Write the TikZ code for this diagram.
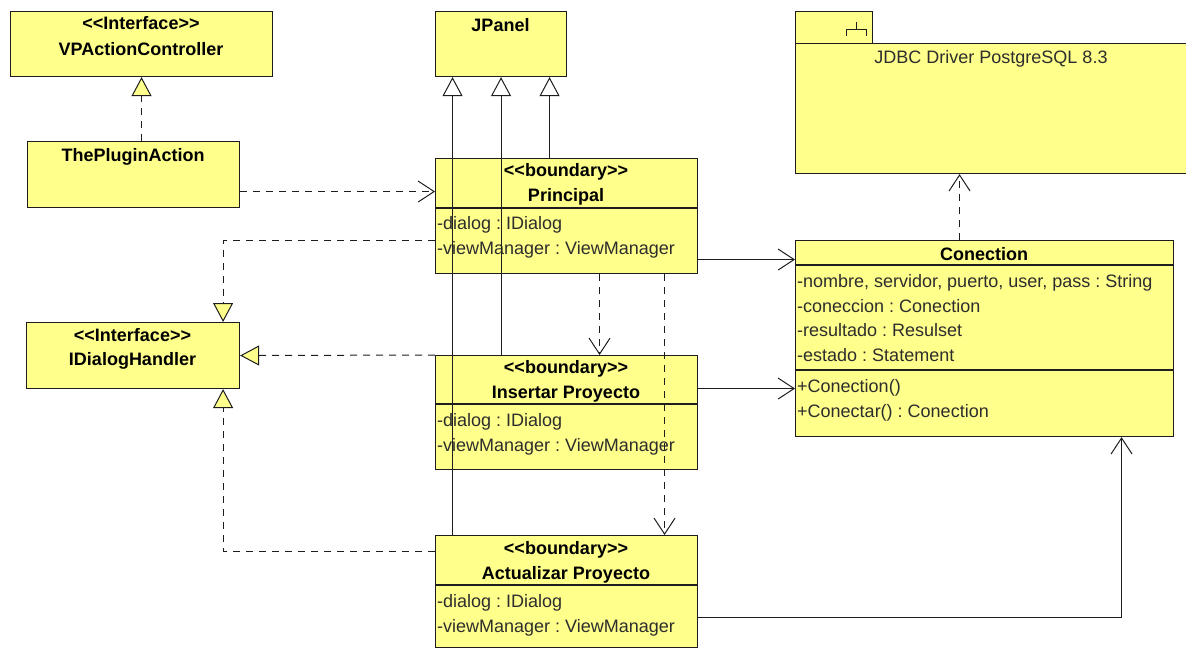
\documentclass[tikz,border=0pt]{standalone}
\usepackage{fontspec}
\setmainfont{Liberation Sans}
\usetikzlibrary{arrows.meta,calc}
\definecolor{umlfill}{RGB}{255,255,140}
\definecolor{umltext}{RGB}{45,45,45}
\definecolor{umlline}{RGB}{30,30,30}
% stereotype brackets, kept as two separate angle characters
\newcommand\stereo[1]{<\kern0pt<#1>\kern0pt>}
\begin{document}
\begin{tikzpicture}[x=1pt,y=-1pt,
  box/.style={draw=umlline,line width=1.1pt,fill=umlfill,anchor=north west,inner sep=0pt},
  sepline/.style={draw=umlline,line width=1.1pt},
  ttl/.style={anchor=base,inner sep=0pt,font=\bfseries,text=black},
  attr/.style={anchor=base west,inner sep=0pt,text=umltext},
  link/.style={draw=umlline,line width=1pt},
  dashedlink/.style={link,dash pattern=on 7pt off 6pt},
  realize/.style={dashedlink,-{Triangle[length=19pt,width=20pt,fill=umlfill,line width=1pt]}},
  inherit/.style={link,-{Triangle[length=19pt,width=20pt,fill=white,line width=1pt]}},
  depend/.style={dashedlink,-{Straight Barb[length=16pt,width=21pt,line width=1pt]}},
  assoc/.style={link,-{Straight Barb[length=16pt,width=21pt,line width=1pt]}}
]
\fontsize{18}{24}\selectfont\frenchspacing
\useasboundingbox (0,0) rectangle (1186,648);

% ---------- interfaces and plain classes ----------
\node[box,minimum width=262pt,minimum height=65pt] (VPA) at (10,11) {};
\node[ttl] (VPAst) at (141,29) {\stereo{Interface}};
\node[ttl] (VPAnm) at (141,55) {VPActionController};

\node[box,minimum width=212pt,minimum height=66pt] (TPA) at (27,141) {};
\node[ttl] (TPAnm) at (133,161) {ThePluginAction};

\node[box,minimum width=213pt,minimum height=66pt] (IDH) at (26,322) {};
\node[ttl] (IDHst) at (132.5,341) {\stereo{Interface}};
\node[ttl] (IDHnm) at (132.5,365) {IDialogHandler};

\node[box,minimum width=131pt,minimum height=65pt] (JP) at (435,11) {};
\node[ttl] (JPnm) at (500.5,31) {JPanel};

% ---------- boundary classes ----------
\node[box,minimum width=262pt,minimum height=115pt] (P) at (435,158) {};
\draw[sepline] (435,208) -- (697,208);
\node[ttl] (Pst) at (566,176.5) {\stereo{boundary}};
\node[ttl] (Pnm) at (566,201.5) {Principal};
\node[attr] (Pa1) at (437,229) {-dialog : IDialog};
\node[attr] (Pa2) at (437,254) {-viewManager : ViewManager};

\node[box,minimum width=262pt,minimum height=114pt] (I) at (435,355) {};
\draw[sepline] (435,404) -- (697,404);
\node[ttl] (Ist) at (566,373.5) {\stereo{boundary}};
\node[ttl] (Inm) at (566,398.5) {Insertar Proyecto};
\node[attr] (Ia1) at (437,426) {-dialog : IDialog};
\node[attr] (Ia2) at (437,451) {-viewManager : ViewManager};

\node[box,minimum width=262pt,minimum height=112pt] (A) at (435,535) {};
\draw[sepline] (435,585) -- (697,585);
\node[ttl] (Ast) at (566,554) {\stereo{boundary}};
\node[ttl] (Anm) at (566,579.5) {Actualizar Proyecto};
\node[attr] (Aa1) at (437,607) {-dialog : IDialog};
\node[attr] (Aa2) at (437,632) {-viewManager : ViewManager};

% ---------- JDBC subsystem package ----------
\node[box,minimum width=77pt,minimum height=32pt] (PKtab) at (795,11) {};
\node[box,minimum width=391pt,minimum height=130pt] (PK) at (795,43) {};
\draw[line width=1pt,umlline] (856,22) -- (856,29) (846,36) -- (846,29) -- (866,29) -- (866,36);
\node[anchor=base,inner sep=0pt,text=umltext] (PKnm) at (991,63) {JDBC Driver PostgreSQL 8.3};

% ---------- Conection class ----------
\node[box,minimum width=378pt,minimum height=196pt] (C) at (795,240) {};
\draw[sepline] (795,265) -- (1173,265);
\draw[sepline] (795,370) -- (1173,370);
\node[ttl] (Cnm) at (984,260) {Conection};
\node[attr] (Ca1) at (797,287.5) {-nombre, servidor, puerto, user, pass : String};
\node[attr] (Ca2) at (797,312) {-coneccion : Conection};
\node[attr] (Ca3) at (797,336.5) {-resultado : Resulset};
\node[attr] (Ca4) at (797,361) {-estado : Statement};
\node[attr] (Co1) at (797,392.5) {+Conection()};
\node[attr] (Co2) at (797,417) {+Conectar() : Conection};

% ---------- connectors ----------
% realization of VPActionController
\draw[realize] (TPA.north -| VPA.south) -- (VPA.south);
% ThePluginAction uses Principal
\draw[depend] ([yshift=-17pt]TPA.east) -- ([yshift=-17pt]TPA.east -| P.west);

% generalizations to JPanel
\draw[inherit] ([xshift=48.5pt]JP.south |- P.north) -- ([xshift=48.5pt]JP.south);
\draw[inherit] (JP.south |- I.north) -- (JP.south);
\draw[inherit] ([xshift=-48.5pt]JP.south |- A.north) -- ([xshift=-48.5pt]JP.south);

% Principal opens the two dialogs
\draw[depend] ([xshift=33pt]P.south) -- ([xshift=33pt]P.south |- I.north);
\draw[depend] ([xshift=98pt]P.south) -- ([xshift=98pt]P.south |- A.north);

% realizations of IDialogHandler
\draw[realize] ([yshift=-24.5pt]P.west) -| ([xshift=-17pt]IDH.north east);
\draw[realize] (I.north west) -- (IDH.east);
\draw[realize] ([yshift=-16pt]A.north west) -| ([xshift=-17pt]IDH.south east);

% Conection links
\draw[depend] ([xshift=-25pt]C.north) -- ([xshift=-25pt]C.north |- PK.south);
\draw[assoc] ([yshift=-43.5pt]P.east) -- ([yshift=-43.5pt]P.east -| C.west);
\draw[assoc] ([yshift=24pt]I.east) -- ([yshift=24pt]I.east -| C.west);
\draw[assoc] ([yshift=-26pt]A.east) -| ([xshift=137pt]C.south);
\end{tikzpicture}
\end{document}
